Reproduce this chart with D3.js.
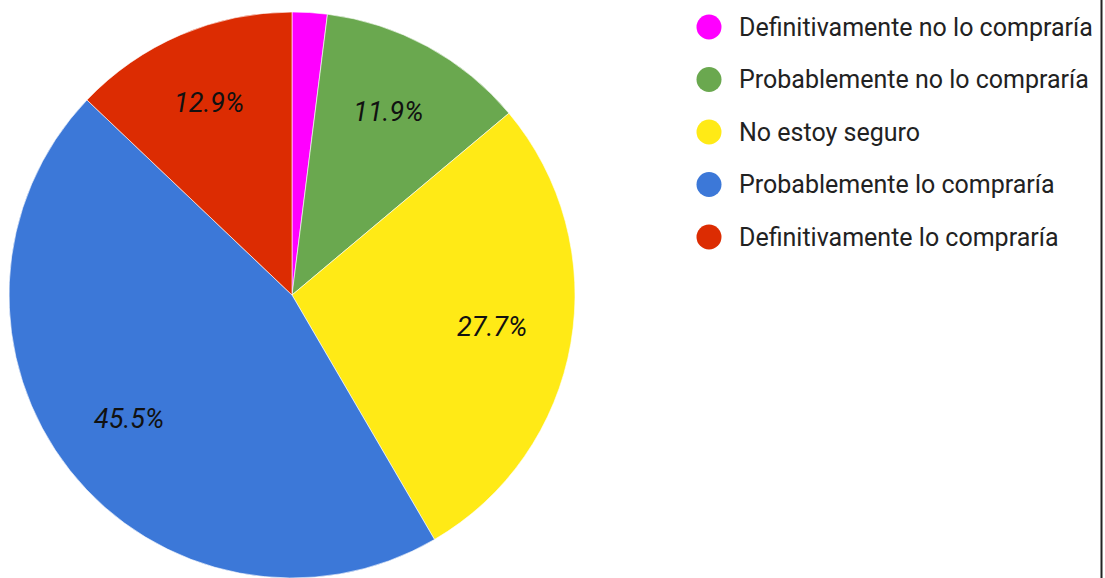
<!DOCTYPE html>
<html>
<head>
<meta charset="utf-8">
<script src="https://cdnjs.cloudflare.com/ajax/libs/d3/7.8.5/d3.min.js"></script>
<style>
  html, body { margin: 0; padding: 0; background: #fff; }
  svg { display: block; }
</style>
</head>
<body>
<svg id="chart" width="1105" height="578"></svg>
<script>
// Survey answers and their shares (%)
const categories = [
  "Definitivamente no lo compraría",
  "Probablemente no lo compraría",
  "No estoy seguro",
  "Probablemente lo compraría",
  "Definitivamente lo compraría"
];
const values = [2.0, 11.9, 27.7, 45.5, 12.9];
const colors = ["#ff00ff", "#6aa84f", "#ffea16", "#3c78d8", "#dc2c02"];

const svg = d3.select("#chart");
const W = 1105, H = 578;

const cx = 292, cy = 295, radius = 283;

const data = categories.map((c, i) => ({ name: c, value: values[i], color: colors[i] }));

const pie = d3.pie().value(d => d.value).sort(null);
const arc = d3.arc().innerRadius(0).outerRadius(radius);
const labelArc = d3.arc().innerRadius(radius * 0.725).outerRadius(radius * 0.725);

const g = svg.append("g").attr("transform", `translate(${cx},${cy})`);
const arcs = pie(data);

g.selectAll("path.slice")
  .data(arcs)
  .join("path")
  .attr("class", "slice")
  .attr("d", arc)
  .attr("fill", d => d.data.color)
  .attr("stroke", "#ffffff")
  .attr("stroke-width", 0.6);

// Percent labels inside slices large enough to hold them
const fmt = d3.format(".1f");
g.selectAll("text.pct")
  .data(arcs.filter(d => d.data.value >= 5))
  .join("text")
  .attr("class", "pct")
  .attr("transform", d => {
    const [x, y] = labelArc.centroid(d);
    return `translate(${x - 2},${y - 3})`;
  })
  .attr("text-anchor", "middle")
  .attr("dominant-baseline", "central")
  .attr("font-family", "Roboto, Arial, sans-serif")
  .attr("font-style", "italic")
  .attr("font-size", 27)
  .attr("fill", "#111")
  .text(d => fmt(d.data.value) + "%");

// Legend
const legend = svg.append("g").attr("transform", "translate(709,27)");
const rowStep = 52.5;
const items = legend.selectAll("g.item")
  .data(data)
  .join("g")
  .attr("class", "item")
  .attr("transform", (d, i) => `translate(0,${i * rowStep})`);

items.append("circle")
  .attr("r", 12.5)
  .attr("fill", d => d.color);

items.append("text")
  .attr("x", 30)
  .attr("y", 0)
  .attr("dominant-baseline", "central")
  .attr("font-family", "Roboto, Arial, sans-serif")
  .attr("font-size", 25)
  .attr("fill", "#222")
  .text(d => d.name);

// Right frame edge
svg.append("line")
  .attr("x1", 1101.5).attr("x2", 1101.5)
  .attr("y1", 0).attr("y2", H)
  .attr("stroke", "#222")
  .attr("stroke-width", 2);
</script>
</body>
</html>
